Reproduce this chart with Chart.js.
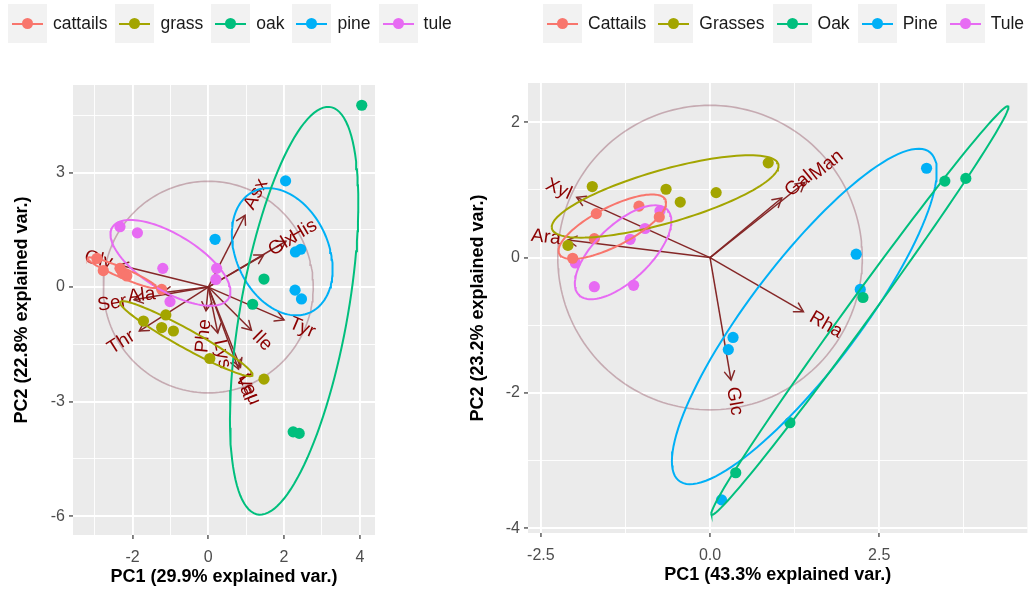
<!DOCTYPE html>
<html>
<head>
<meta charset="utf-8">
<script src="https://cdn.jsdelivr.net/npm/chart.js@4.4.1/dist/chart.umd.min.js"></script>
<style>
  body { margin: 0; width: 1033px; height: 594px; background: #fff; position: relative; overflow: hidden;
         font-family: "Liberation Sans", Arial, sans-serif; }
  canvas { position: absolute; top: 0; }
  .legend { position: absolute; top: 4px; display: flex; align-items: center; height: 39px; }
  .item { display: flex; align-items: center; margin-right: 8px; }
  .key { position: relative; width: 39px; height: 39px; background: #F2F2F2; margin-right: 6px; }
  .key .ln { position: absolute; left: 4px; right: 4px; top: 18.5px; height: 2px; }
  .key .dot { position: absolute; left: 14px; top: 14px; width: 11px; height: 11px; border-radius: 50%; }
  .lab { font-size: 17.5px; color: #1a1a1a; line-height: 39px; }
</style>
</head>
<body>
<canvas id="left" width="455" height="594" style="left:0"></canvas>
<canvas id="right" width="578" height="594" style="left:455px"></canvas>
<div class="legend" id="legLeft" style="left:8px"></div>
<div class="legend" id="legRight" style="left:543px"></div>
<script>
// ---------- group colours (ggplot hue palette) ----------
const groupColors = ['#F8766D', '#A3A500', '#00BF7D', '#00B0F6', '#E76BF3'];

// ---------- left biplot: amino acids ----------
const leftGroups = ['cattails', 'grass', 'oak', 'pine', 'tule'];
const leftCattailsPC1 = [-2.94, -2.77, -2.33, -2.26, -2.15, -1.23];
const leftCattailsPC2 = [0.75, 0.43, 0.49, 0.36, 0.29, -0.06];
const leftGrassPC1 = [-1.71, -1.12, -1.23, -0.92, 0.04, 1.47];
const leftGrassPC2 = [-0.89, -0.73, -1.06, -1.15, -1.87, -2.41];
const leftOakPC1 = [4.05, 1.47, 1.17, 2.24, 2.40];
const leftOakPC2 = [4.76, 0.21, -0.45, -3.79, -3.83];
const leftPinePC1 = [2.04, 0.18, 2.30, 2.44, 2.29, 2.46];
const leftPinePC2 = [2.78, 1.25, 0.92, 0.99, -0.08, -0.31];
const leftTulePC1 = [-2.33, -1.87, -1.20, 0.22, 0.20, -1.01];
const leftTulePC2 = [1.58, 1.42, 0.49, 0.49, 0.20, -0.38];

const leftVars = ['Asx', 'Glx', 'His', 'Gly', 'Ser', 'Ala', 'Thr', 'Phe', 'Lys', 'Leu', 'Val', 'Ile', 'Tyr'];
const leftVarPC1 = [0.97, 1.46, 2.05, -2.35, -1.96, -1.22, -1.82, -0.06, 0.25, 0.85, 0.80, 1.14, 2.00];
const leftVarPC2 = [1.88, 0.84, 1.20, 0.58, -0.33, -0.15, -1.15, -0.62, -1.20, -2.10, -2.15, -1.13, -0.86];
const leftCircleRadius = 2.77;

const leftXTicks = [-3, -2, -1, 0, 1, 2, 3, 4];
const leftXLabels = ['', '-2', '', '0', '', '2', '', '4'];
const leftYTicks = [-6, -4.5, -3, -1.5, 0, 1.5, 3, 4.5];
const leftYLabels = ['-6', '', '-3', '', '0', '', '3', ''];
const leftXTitle = 'PC1 (29.9% explained var.)';
const leftYTitle = 'PC2 (22.8% explained var.)';

// ---------- right biplot: sugars ----------
const rightGroups = ['Cattails', 'Grasses', 'Oak', 'Pine', 'Tule'];
const rightCattailsPC1 = [-1.68, -1.05, -0.75, -1.71, -2.03];
const rightCattailsPC2 = [0.65, 0.76, 0.60, 0.28, -0.01];
const rightGrassesPC1 = [-1.74, -0.65, -0.44, 0.09, 0.86, -2.10];
const rightGrassesPC2 = [1.05, 1.01, 0.82, 0.96, 1.40, 0.18];
const rightOakPC1 = [3.47, 3.78, 2.26, 1.18, 0.38];
const rightOakPC2 = [1.13, 1.17, -0.59, -2.44, -3.18];
const rightPinePC1 = [3.20, 2.16, 2.22, 0.34, 0.27, 0.17];
const rightPinePC2 = [1.32, 0.05, -0.47, -1.18, -1.36, -3.58];
const rightTulePC1 = [-0.74, -0.96, -1.18, -1.99, -1.71, -1.13];
const rightTulePC2 = [0.69, 0.43, 0.27, -0.08, -0.43, -0.41];

const rightVars = ['Xyl', 'Ara', 'Gal', 'Man', 'Rha', 'Glc'];
const rightVarPC1 = [-1.97, -2.10, 1.06, 1.40, 1.38, 0.31];
const rightVarPC2 = [0.89, 0.26, 0.88, 1.11, -0.80, -1.81];
const rightCircleRadius = 2.25;

const rightXTicks = [-2.5, -1.25, 0, 1.25, 2.5, 3.75];
const rightXLabels = ['-2.5', '', '0.0', '', '2.5', ''];
const rightYTicks = [-4, -3, -2, -1, 0, 1, 2];
const rightYLabels = ['-4', '', '-2', '', '0', '', '2'];
const rightXTitle = 'PC1 (43.3% explained var.)';
const rightYTitle = 'PC2 (23.2% explained var.)';

// ---------- helpers ----------
function toPoints(xs, ys) { return xs.map((v, i) => ({ x: v, y: ys[i] })); }

// normal-theory data ellipse (68 %) from a group's sample covariance
function dataEllipse(xs, ys, prob = 0.68, n = 121) {
  const m = xs.length;
  const mx = xs.reduce((a, b) => a + b, 0) / m;
  const my = ys.reduce((a, b) => a + b, 0) / m;
  let sxx = 0, syy = 0, sxy = 0;
  for (let i = 0; i < m; i++) {
    sxx += (xs[i] - mx) ** 2; syy += (ys[i] - my) ** 2; sxy += (xs[i] - mx) * (ys[i] - my);
  }
  sxx /= (m - 1); syy /= (m - 1); sxy /= (m - 1);
  const a = Math.sqrt(sxx), b = sxy / a, c = Math.sqrt(Math.max(syy - b * b, 0));
  const ed = Math.sqrt(-2 * Math.log(1 - prob));
  const out = [];
  for (let k = 0; k < n; k++) {
    const t = -Math.PI + 2 * Math.PI * k / (n - 1);
    const u = Math.cos(t), v = Math.sin(t);
    out.push({ x: mx + ed * u * a, y: my + ed * (u * b + v * c) });
  }
  return out;
}

function circlePath(r, n = 181) {
  const out = [];
  for (let k = 0; k < n; k++) {
    const t = 2 * Math.PI * k / (n - 1);
    out.push({ x: r * Math.cos(t), y: r * Math.sin(t) });
  }
  return out;
}

const ARROW_COL = '#852727';
const LABEL_COL = '#8B0000';

function buildDatasets(groups, pc1s, pc2s, varPC1, varPC2, radius) {
  const ds = [];
  ds.push({ role: 'circle', data: circlePath(radius), showLine: true, pointRadius: 0,
            borderColor: 'rgba(120,40,60,0.33)', borderWidth: 1.6, order: 10 });
  varPC1.forEach((v, i) => {
    ds.push({ role: 'arrow', data: [{ x: 0, y: 0 }, { x: v, y: varPC2[i] }], showLine: true, pointRadius: 0,
              borderColor: ARROW_COL, borderWidth: 1.5, order: 8 });
  });
  groups.forEach((g, gi) => {
    ds.push({ role: 'points', label: g, data: toPoints(pc1s[gi], pc2s[gi]), showLine: false,
              pointRadius: 5.6, pointBorderWidth: 0, backgroundColor: groupColors[gi],
              borderColor: groupColors[gi], order: 4 });
  });
  groups.forEach((g, gi) => {
    ds.push({ role: 'ellipse', data: dataEllipse(pc1s[gi], pc2s[gi]), showLine: true, pointRadius: 0,
              borderColor: groupColors[gi], borderWidth: 2, order: 2 });
  });
  return ds;
}

// panel background, arrowheads and variable labels
const biplotPlugin = {
  id: 'biplot',
  beforeDraw(chart) {
    const { ctx, chartArea: a } = chart;
    ctx.save();
    ctx.fillStyle = '#EBEBEB';
    ctx.fillRect(a.left, a.top, a.right - a.left, a.bottom - a.top);
    ctx.restore();
  },
  beforeDatasetsDraw(chart) { chart.$labelsDone = false; },
  afterDatasetDraw(chart, args) {
    const ds = chart.data.datasets[args.index];
    if (ds.role !== 'arrow') return;
    const { ctx, scales: { x, y } } = chart;
    const x0 = x.getPixelForValue(0), y0 = y.getPixelForValue(0);
    const x1 = x.getPixelForValue(ds.data[1].x), y1 = y.getPixelForValue(ds.data[1].y);
    const ang = Math.atan2(y1 - y0, x1 - x0);
    const L = 10, spread = Math.PI / 6;
    ctx.save();
    ctx.strokeStyle = ARROW_COL; ctx.lineWidth = 1.5; ctx.lineCap = 'round';
    ctx.beginPath();
    ctx.moveTo(x1 - L * Math.cos(ang - spread), y1 - L * Math.sin(ang - spread));
    ctx.lineTo(x1, y1);
    ctx.lineTo(x1 - L * Math.cos(ang + spread), y1 - L * Math.sin(ang + spread));
    ctx.stroke();
    ctx.restore();
  },
  beforeDatasetDraw(chart, args) {
    const ds = chart.data.datasets[args.index];
    if (ds.role !== 'points' || chart.$labelsDone) return;
    chart.$labelsDone = true;
    const opt = chart.config.options.plugins.biplot;
    const { ctx, scales: { x, y } } = chart;
    ctx.save();
    ctx.font = '19px "Liberation Sans", Arial, sans-serif';
    ctx.fillStyle = LABEL_COL;
    ctx.textBaseline = 'middle';
    ctx.textAlign = 'left';
    opt.names.forEach((name, i) => {
      const vx = opt.pc1[i], vy = opt.pc2[i];
      const px = x.getPixelForValue(vx), py = y.getPixelForValue(vy);
      const angle = Math.atan(vy / vx);
      const hjust = (1 - 1.5 * Math.sign(vx)) / 2;
      const w = ctx.measureText(name).width;
      ctx.save();
      ctx.translate(px, py);
      ctx.rotate(-angle);
      ctx.fillText(name, -hjust * w, 0);
      ctx.restore();
    });
    ctx.restore();
  }
};

function axisOpts(min, max, ticks, labels, title, isX, titlePad, size) {
  return {
    type: 'linear', min, max, position: isX ? 'bottom' : 'left',
    afterBuildTicks: s => { s.ticks = ticks.map(v => ({ value: v })); },
    afterFit: s => { if (isX) s.height = size; else s.width = size; },
    ticks: {
      autoSkip: false, maxRotation: 0, minRotation: 0, padding: isX ? 9 : 4,
      color: '#4D4D4D', font: { size: 16, family: '"Liberation Sans", Arial, sans-serif' },
      callback: v => { const i = ticks.indexOf(v); return i >= 0 ? labels[i] : ''; }
    },
    grid: {
      color: '#FFFFFF',
      lineWidth: c => (c.tick && labels[ticks.indexOf(c.tick.value)] !== '' ? 1.9 : 0.9),
      drawTicks: true, tickLength: 4, tickWidth: 1.2,
      tickColor: c => (c.tick && labels[ticks.indexOf(c.tick.value)] !== '' ? '#333333' : 'rgba(0,0,0,0)')
    },
    border: { display: false },
    title: {
      display: true, text: title, color: '#000000',
      font: { size: 18, weight: 'bold', family: '"Liberation Sans", Arial, sans-serif' },
      padding: isX ? { top: 0, bottom: titlePad } : { top: titlePad, bottom: 0 }
    }
  };
}

function makeChart(id, cfg) {
  return new Chart(document.getElementById(id), {
    type: 'scatter',
    data: { datasets: buildDatasets(cfg.groups, cfg.pc1s, cfg.pc2s, cfg.varPC1, cfg.varPC2, cfg.radius) },
    options: {
      responsive: false, animation: false, devicePixelRatio: 1,
      layout: { padding: cfg.padding },
      plugins: {
        legend: { display: false }, tooltip: { enabled: false },
        biplot: { names: cfg.vars, pc1: cfg.varPC1, pc2: cfg.varPC2 }
      },
      scales: {
        x: axisOpts(cfg.xmin, cfg.xmax, cfg.xTicks, cfg.xLabels, cfg.xTitle, true, cfg.xTitlePad, cfg.xSize),
        y: axisOpts(cfg.ymin, cfg.ymax, cfg.yTicks, cfg.yLabels, cfg.yTitle, false, cfg.yTitlePad, 73)
      }
    },
    plugins: [biplotPlugin]
  });
}

makeChart('left', {
  groups: leftGroups,
  pc1s: [leftCattailsPC1, leftGrassPC1, leftOakPC1, leftPinePC1, leftTulePC1],
  pc2s: [leftCattailsPC2, leftGrassPC2, leftOakPC2, leftPinePC2, leftTulePC2],
  vars: leftVars, varPC1: leftVarPC1, varPC2: leftVarPC2, radius: leftCircleRadius,
  xmin: -3.57, xmax: 4.40, ymin: -6.49, ymax: 5.29,
  xTicks: leftXTicks, xLabels: leftXLabels, yTicks: leftYTicks, yLabels: leftYLabels,
  xTitle: leftXTitle, yTitle: leftYTitle, xTitlePad: 6, yTitlePad: 11, xSize: 59,
  padding: { top: 85, right: 80, left: 0, bottom: 0 }
});

makeChart('right', {
  groups: rightGroups,
  pc1s: [rightCattailsPC1, rightGrassesPC1, rightOakPC1, rightPinePC1, rightTulePC1],
  pc2s: [rightCattailsPC2, rightGrassesPC2, rightOakPC2, rightPinePC2, rightTulePC2],
  vars: rightVars, varPC1: rightVarPC1, varPC2: rightVarPC2, radius: rightCircleRadius,
  xmin: -2.69, xmax: 4.69, ymin: -4.07, ymax: 2.58,
  xTicks: rightXTicks, xLabels: rightXLabels, yTicks: rightYTicks, yLabels: rightYLabels,
  xTitle: rightXTitle, yTitle: rightYTitle, xTitlePad: 8, yTitlePad: 12, xSize: 61,
  padding: { top: 83, right: 3, left: 0, bottom: 0 }
});

// legends
function buildLegend(id, names) {
  const host = document.getElementById(id);
  names.forEach((n, i) => {
    const item = document.createElement('div'); item.className = 'item';
    const key = document.createElement('div'); key.className = 'key';
    const ln = document.createElement('div'); ln.className = 'ln'; ln.style.background = groupColors[i];
    const dot = document.createElement('div'); dot.className = 'dot'; dot.style.background = groupColors[i];
    key.appendChild(ln); key.appendChild(dot);
    const lab = document.createElement('span'); lab.className = 'lab'; lab.textContent = n;
    item.appendChild(key); item.appendChild(lab);
    host.appendChild(item);
  });
}
buildLegend('legLeft', leftGroups);
buildLegend('legRight', rightGroups);
</script>
</body>
</html>
